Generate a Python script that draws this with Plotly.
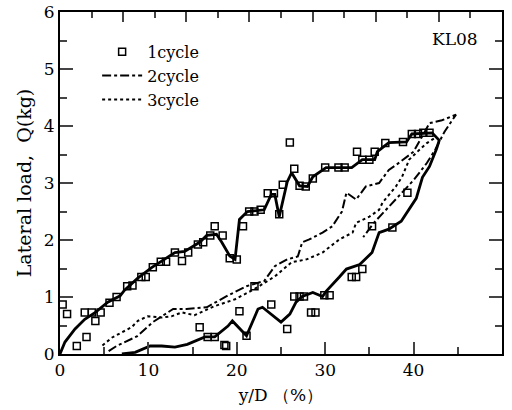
import plotly.graph_objects as go

# ---- data ----
c1_line_x = [0, 0.56, 1.7, 2.8, 4.0, 4.5, 5.4, 6.8, 7.3, 8.8, 10.4, 11.5, 13.0, 14.1, 15.8, 16.6, 17.7, 18.3,
             19.2, 19.8, 20.3, 21.2, 23.1, 23.9, 24.3, 24.8, 25.7, 26.2, 27.1, 28.0, 28.6, 30.1, 33.0, 34.2,
             35.6, 35.9, 37.2, 39.2, 39.8, 42.1, 42.9,
             42.6, 41.8, 41.0, 40.3, 38.6, 37.2, 36.1, 35.3, 33.9, 32.4, 31.6, 30.1, 29.7, 28.6, 27.4, 26.7,
             26.0, 25.0, 22.9, 22.4, 21.1, 19.5, 19.0, 17.5, 16.4, 14.4, 13.0, 11.5, 10.2, 8.5, 7.0]
c1_line_y = [0, 0.21, 0.44, 0.61, 0.73, 0.80, 0.91, 1.02, 1.12, 1.33, 1.52, 1.63, 1.78, 1.80, 1.96, 2.08, 2.10, 1.96,
             1.72, 1.66, 2.36, 2.50, 2.53, 2.80, 2.80, 2.41, 3.02, 3.18, 2.95, 2.94, 3.11, 3.27, 3.27, 3.41,
             3.41, 3.55, 3.71, 3.72, 3.86, 3.88, 3.75,
             3.60, 3.29, 3.10, 2.73, 2.33, 2.19, 2.13, 1.78, 1.57, 1.49, 1.35, 1.10, 1.01, 1.08, 1.01, 0.91,
             0.70, 0.56, 0.82, 0.79, 0.32, 0.58, 0.49, 0.30, 0.30, 0.17, 0.12, 0.14, 0.14, 0.03, 0.0]

c1_pts_x = [0.3, 0.8, 1.9, 3.0, 2.8, 4.0, 3.6, 4.6, 5.6, 6.4, 7.6, 8.2, 9.2, 9.7, 10.5, 11.4, 12.0, 13.0, 13.8,
            14.5, 15.6, 16.2, 17.0, 17.5, 18.4, 19.2, 20.0, 20.7, 21.4, 22.0, 22.7, 23.5, 24.2, 24.8, 25.2,
            26.0, 26.5, 27.1, 27.8, 28.6, 30.0, 31.5, 32.2, 33.6, 34.2, 35.0, 35.6, 36.8, 38.8, 39.3, 39.8,
            40.5, 41.1, 41.8, 37.6, 35.3, 34.2, 33.0, 33.5, 30.5, 29.9, 27.1, 27.6, 28.4, 28.9, 26.5, 25.7,
            23.9, 22.0, 21.1, 20.3, 18.6, 17.5, 16.7, 15.8, 18.8]
c1_pts_y = [0.87, 0.70, 0.14, 0.30, 0.73, 0.58, 0.73, 0.73, 0.90, 1.00, 1.19, 1.20, 1.35, 1.35, 1.52, 1.62,
            1.62, 1.78, 1.63, 1.78, 1.92, 1.96, 2.08, 2.24, 2.08, 1.68, 1.66, 2.24, 2.50, 2.50, 2.53, 2.82,
            2.82, 2.45, 2.97, 3.71, 3.25, 2.95, 2.94, 3.08, 3.27, 3.27, 3.27, 3.55, 3.41, 3.41, 3.55, 3.70,
            3.72, 2.83, 3.86, 3.86, 3.88, 3.88, 2.22, 2.24, 1.49, 1.35, 1.35, 1.03, 1.03, 1.01, 1.01, 0.73,
            0.73, 1.01, 0.44, 0.87, 1.19, 0.32, 0.75, 0.16, 0.30, 0.30, 0.47, 0.14]

c2_x = [5.5, 6.4, 8.7, 10.5, 12.8, 14.3, 16.6, 18.8, 21.1, 23.1, 24.3, 25.7, 26.9, 27.4, 28.2, 29.7, 30.8,
        31.9, 32.4, 33.5, 34.6, 36.1, 37.2, 38.4, 40.0, 41.8, 43.2, 44.8,
        43.5, 42.5, 41.5, 40.0, 38.5, 37.0, 35.5, 34.3]
c2_y = [0.05, 0.14, 0.31, 0.56, 0.79, 0.79, 0.82, 1.01, 1.19, 1.28, 1.54, 1.66, 1.71, 1.96, 2.01, 2.13, 2.24,
        2.50, 2.83, 2.71, 2.94, 3.00, 3.23, 3.36, 3.55, 4.05, 4.10, 4.20,
        3.90, 3.60, 3.35, 3.05, 2.80, 2.55, 2.30, 2.05]

c3_x = [4.8, 5.9, 7.0, 8.1, 8.8, 9.9, 11.5, 12.6, 13.8, 15.2, 17.5, 19.8, 22.0, 24.3, 26.2, 27.9, 29.7,
        31.6, 33.1, 33.5, 35.0, 36.1, 36.5, 38.0, 38.7, 39.5, 40.3, 41.5, 42.5]
c3_y = [0.15, 0.29, 0.38, 0.47, 0.58, 0.66, 0.64, 0.66, 0.73, 0.68, 0.84, 0.96, 1.14, 1.36, 1.61, 1.66, 1.78,
        2.01, 2.13, 2.30, 2.41, 2.53, 2.66, 2.94, 3.11, 3.41, 3.53, 3.70, 3.80]

x_ticks = [0, 10, 20, 30, 40, 50]
y_ticks = [0, 1, 2, 3, 4, 5, 6]

FONT = "DejaVu Serif"
fig = go.Figure()

fig.add_trace(go.Scatter(x=c1_line_x, y=c1_line_y, mode="lines", showlegend=False,
                         line=dict(color="black", width=2.8)))
fig.add_trace(go.Scatter(x=c1_pts_x, y=c1_pts_y, mode="markers", name="1cycle",
                         marker=dict(symbol="square-open", size=7, color="black",
                                     line=dict(width=1.5, color="black"))))
fig.add_trace(go.Scatter(x=c2_x, y=c2_y, mode="lines", name="2cycle",
                         line=dict(color="black", width=2, dash="dashdot")))
fig.add_trace(go.Scatter(x=c3_x, y=c3_y, mode="lines", name="3cycle",
                         line=dict(color="black", width=2, dash="dot")))
# invisible trace to activate the top tick axis
fig.add_trace(go.Scatter(x=[0, 14], y=[0, 0], xaxis="x2", mode="markers",
                         marker=dict(opacity=0), showlegend=False, hoverinfo="skip"))

fig.update_layout(
    width=512, height=410,
    margin=dict(l=60, r=10, t=12, b=56, autoexpand=False),
    paper_bgcolor="white", plot_bgcolor="white",
    font=dict(family=FONT, color="black", size=17),
    showlegend=True,
    legend=dict(x=0.084, y=0.933, xanchor="left", yanchor="top", bgcolor="rgba(0,0,0,0)",
                font=dict(size=16, family=FONT), tracegroupgap=0, itemwidth=40),
    xaxis=dict(range=[0, 50], tickvals=x_ticks, ticktext=[str(v) for v in x_ticks], automargin=False,
               ticks="inside", ticklen=12, tickwidth=2, showline=True, linewidth=2, linecolor="black",
               showgrid=False, zeroline=False, mirror=False,
               minor=dict(dtick=5, ticks="inside", ticklen=7, tickwidth=1.5, showgrid=False),
               tickfont=dict(size=17, family=FONT),
               title=dict(text="y/D （%）", font=dict(size=17, family=FONT), standoff=10)),
    xaxis2=dict(range=[0, 14], overlaying="x", side="top", dtick=2, ticks="inside", ticklen=10,
                tickwidth=2, showticklabels=False, showline=True, linewidth=2, linecolor="black",
                showgrid=False, zeroline=False, automargin=False,
                minor=dict(dtick=1, ticks="inside", ticklen=6, tickwidth=1.5, showgrid=False)),
    yaxis=dict(range=[0, 6], tickvals=y_ticks, ticktext=[str(v) for v in y_ticks], automargin=False,
               ticks="inside", ticklen=13, tickwidth=2, showline=True, linewidth=2, linecolor="black",
               showgrid=False, zeroline=False, mirror="ticks",
               minor=dict(dtick=0.5, ticks="inside", ticklen=7, tickwidth=1.5, showgrid=False),
               tickfont=dict(size=17, family=FONT),
               title=dict(text="Lateral load,  Q(kg)", font=dict(size=19, family=FONT), standoff=7)),
    annotations=[dict(x=44.7, y=5.52, xref="x", yref="y", text="KL08", showarrow=False,
                      font=dict(size=17, family=FONT))],
)

fig.write_html("out.html", config={"displayModeBar": False},
               post_script="document.body.style.margin='0';document.body.style.overflow='hidden';")
